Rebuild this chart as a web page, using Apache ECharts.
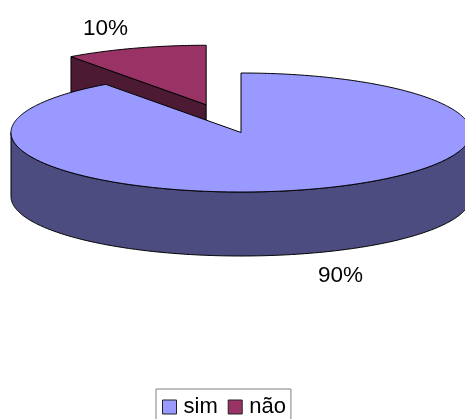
<!DOCTYPE html>
<html>
<head>
<meta charset="utf-8">
<style>html,body{margin:0;padding:0;background:#fff}#c{width:465px;height:419px}</style>
<script src="https://cdn.jsdelivr.net/npm/echarts@6/dist/echarts.min.js"></script>
</head>
<body>
<div id="c"></div>
<script>
const categories = ['sim', 'não'];
const values = [90, 10];
const topColors = ['#9999ff', '#993366'];
const sideColors = ['#4c4c80', '#4d1a33'];
const labelPos = [[340.5, 276], [105.5, 29]];

const CX = 241, CY = 132.5, RX = 230, RY = 59.5, DEPTH = 64, EXPLODE = [0, 0.49];
const FONT = '22.5px "Liberation Sans", Arial, sans-serif';
const total = values.reduce((a, b) => a + b, 0);
const rad = d => d * Math.PI / 180;

function arc(ox, oy, a0, a1, dy) {
  const pts = [], n = Math.max(2, Math.ceil(Math.abs(a1 - a0) * 1.5));
  for (let i = 0; i <= n; i++) {
    const t = rad(a0 + (a1 - a0) * i / n);
    pts.push([ox + RX * Math.sin(t), oy - RY * Math.cos(t) + dy]);
  }
  return pts;
}

function slice(idx) {
  const before = values.slice(0, idx).reduce((a, b) => a + b, 0);
  const a0 = before / total * 360, a1 = (before + values[idx]) / total * 360;
  const mid = rad((a0 + a1) / 2);
  const ox = CX + EXPLODE[idx] * RX * Math.sin(mid);
  const oy = CY - EXPLODE[idx] * RY * Math.cos(mid);
  const line = { stroke: '#000', lineWidth: 1 };
  const children = [];
  const poly = (points, fill) => children.push({
    type: 'polygon', shape: { points }, style: Object.assign({ fill }, line)
  });
  // outer wall: the part of the rim on the near half of the ellipse
  const w0 = Math.max(a0, 90), w1 = Math.min(a1, 270);
  if (w1 > w0) {
    poly(arc(ox, oy, w0, w1, 0).concat(arc(ox, oy, w0, w1, DEPTH).reverse()), sideColors[idx]);
  }
  // cut face at the start of the slice when it faces the viewer
  if (a0 > 270 && a0 < 360) {
    const p = arc(ox, oy, a0, a0, 0)[0];
    poly([[p[0], p[1]], [ox, oy], [ox, oy + DEPTH], [p[0], p[1] + DEPTH]], sideColors[idx]);
  }
  // top face
  poly([[ox, oy]].concat(arc(ox, oy, a0, a1, 0)), topColors[idx]);
  children.push({
    type: 'text',
    style: {
      text: Math.round(values[idx] / total * 100) + '%',
      x: labelPos[idx][0], y: labelPos[idx][1],
      font: FONT, fill: '#000', align: 'center', verticalAlign: 'middle'
    }
  });
  return { type: 'group', children };
}

const chart = echarts.init(document.getElementById('c'), null, { renderer: 'canvas' });
chart.setOption({
  animation: false,
  backgroundColor: '#fff',
  legend: {
    data: categories,
    left: 156, top: 389,
    orient: 'horizontal',
    padding: [7, 5, 8, 6],
    itemGap: 10,
    itemWidth: 14, itemHeight: 14,
    icon: 'rect',
    borderColor: '#808080', borderWidth: 1,
    selectedMode: false,
    textStyle: { fontFamily: '"Liberation Sans", Arial, sans-serif', fontSize: 22, color: '#000', padding: [0, 0, 0, 2] },
    itemStyle: { borderColor: '#222', borderWidth: 1 }
  },
  series: categories.map((name, i) => ({
    type: 'custom',
    name,
    coordinateSystem: 'none',
    z: i === 0 ? 3 : 2,
    silent: true,
    itemStyle: { color: topColors[i] },
    data: [values[i]],
    renderItem: () => slice(i)
  }))
});
</script>
</body>
</html>
